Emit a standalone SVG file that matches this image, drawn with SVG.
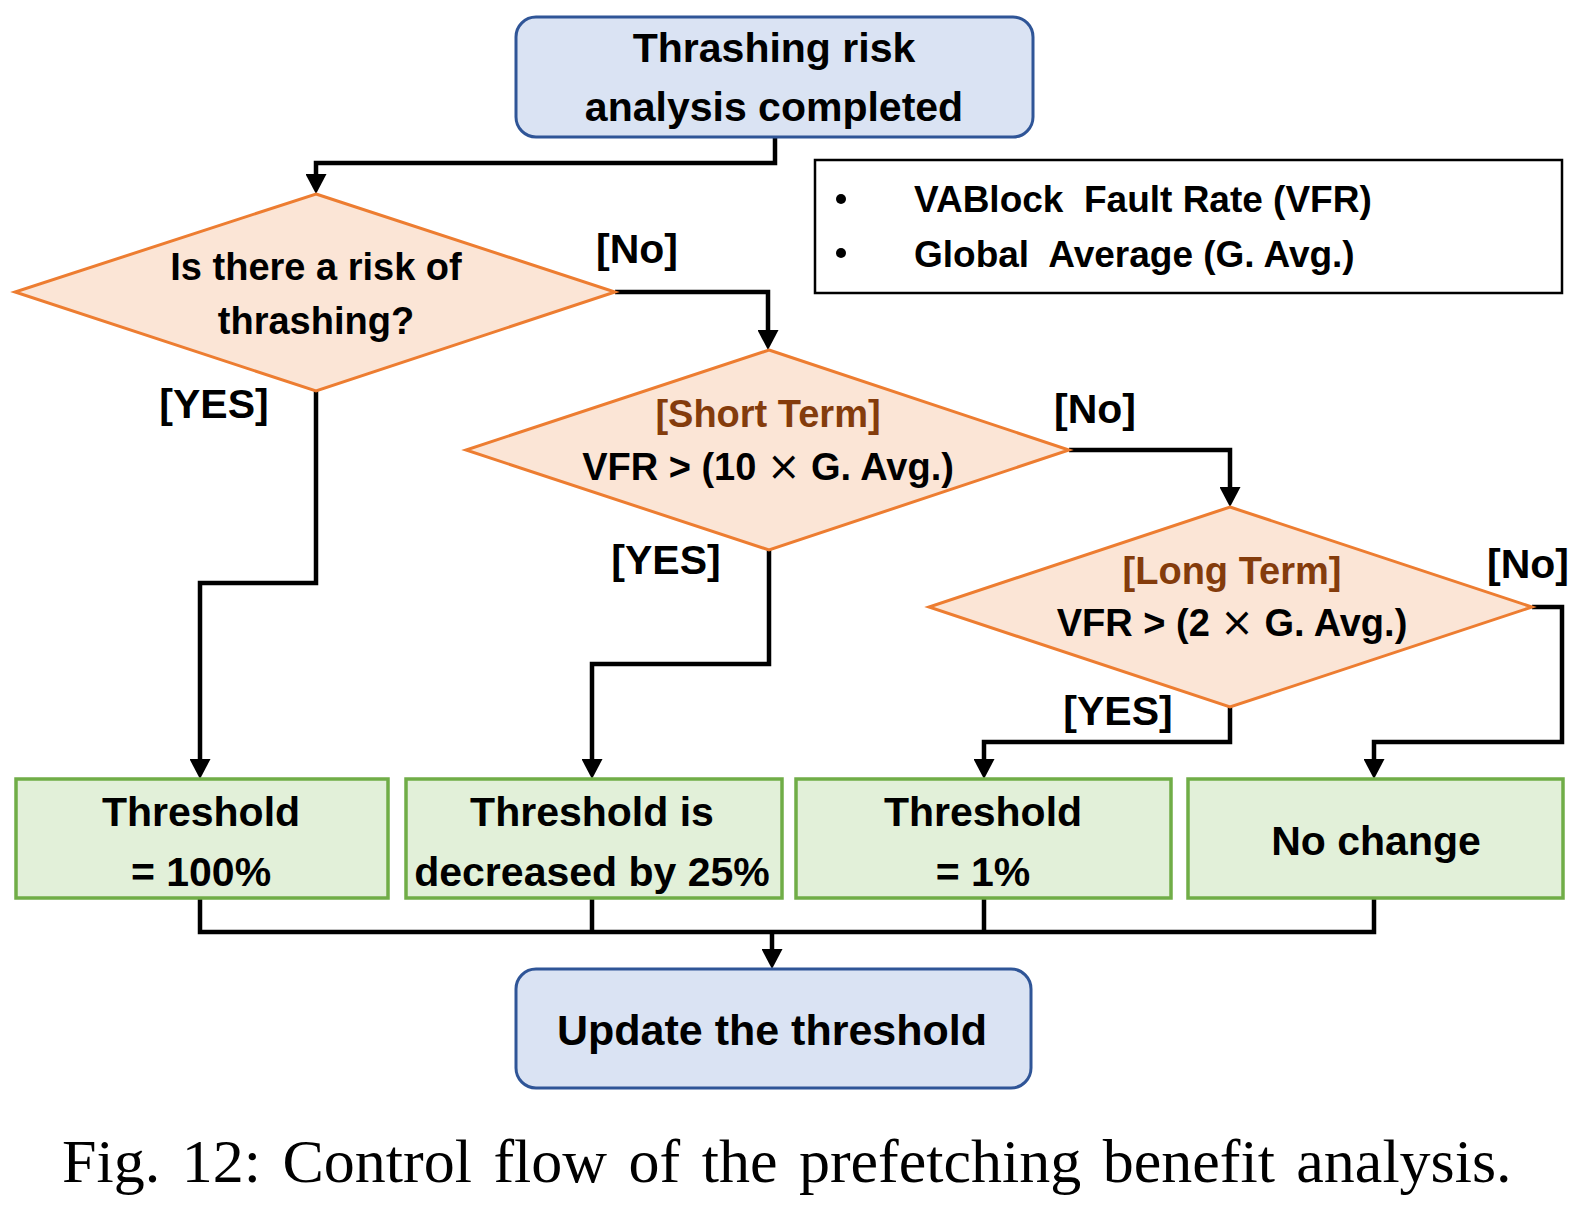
<svg xmlns="http://www.w3.org/2000/svg" width="1582" height="1208" viewBox="0 0 1582 1208">
<style>
  .t { font-family: "Liberation Sans", Arial, sans-serif; font-weight: bold; fill: #000; text-anchor: middle; }
  .n41 { font-size: 41px; }
  .d38 { font-size: 38px; }
  .lbl { font-size: 41px; }
  .brown { fill: #843C0C; }
  .x { font-family: "DejaVu Sans", sans-serif; font-weight: normal; font-size: 40px; }
  .start { fill: #DAE3F3; stroke: #2F5597; stroke-width: 3; }
  .dia { fill: #FBE5D6; stroke: #ED7D31; stroke-width: 3; }
  .box { fill: #E2F0D9; stroke: #70AD47; stroke-width: 3.5; }
  .conn { fill: none; stroke: #000; stroke-width: 4.5; stroke-linejoin: miter; }
  .cap { font-family: "Liberation Serif", "Times New Roman", serif; font-size: 62px; fill: #000; word-spacing: 6px; }
</style>
<defs>
  <marker id="arr" viewBox="0 0 20 21" markerWidth="20" markerHeight="21" refX="0" refY="10.5" orient="auto" markerUnits="userSpaceOnUse">
    <path d="M0,0 L20,10.5 L0,21 z" fill="#000"/>
  </marker>
</defs>
<rect width="1582" height="1208" fill="#fff"/>

<g id="connectors">
  <path class="conn" d="M775,137 V163 H316 V174" marker-end="url(#arr)"/>
  <path class="conn" d="M615,292 H768 V330" marker-end="url(#arr)"/>
  <path class="conn" d="M1069,450 H1230 V487" marker-end="url(#arr)"/>
  <path class="conn" d="M316,391 V583 H200 V759" marker-end="url(#arr)"/>
  <path class="conn" d="M769,550 V664 H592 V759" marker-end="url(#arr)"/>
  <path class="conn" d="M1230,706 V742 H984 V759" marker-end="url(#arr)"/>
  <path class="conn" d="M1532,607 H1562 V742 H1374 V759" marker-end="url(#arr)"/>
  <path class="conn" d="M200,898 V932 H1374 V898 M592,898 V932 M984,898 V932"/>
  <path class="conn" d="M772,932 V949" marker-end="url(#arr)"/>
</g>

<g id="start">
  <rect class="start" x="516" y="17" width="517" height="120" rx="20"/>
  <text class="t n41" x="774" y="62">Thrashing risk</text>
  <text class="t n41" x="774" y="121">analysis completed</text>
</g>

<g id="legend">
  <rect x="815" y="160" width="747" height="133" fill="#fff" stroke="#000" stroke-width="2.5"/>
  <circle cx="841" cy="199" r="5" fill="#000"/>
  <circle cx="841" cy="253" r="5" fill="#000"/>
  <text class="t" xml:space="preserve" style="font-size:37px;text-anchor:start" x="914" y="212">VABlock  Fault Rate (VFR)</text>
  <text class="t" xml:space="preserve" style="font-size:37px;text-anchor:start" x="914" y="267">Global  Average (G. Avg.)</text>
</g>

<g id="q1">
  <polygon class="dia" points="316,194 615,292 316,391 15,292"/>
  <text class="t d38" x="316" y="280">Is there a risk of</text>
  <text class="t d38" x="316" y="334">thrashing?</text>
</g>

<g id="q2">
  <polygon class="dia" points="769,350 1069,450 769,550 466,450"/>
  <text class="t d38 brown" x="768" y="427">[Short Term]</text>
  <text class="t d38" x="768" y="480">VFR &gt; (10 <tspan class="x">×</tspan> G. Avg.)</text>
</g>

<g id="q3">
  <polygon class="dia" points="1230,507 1532,607 1230,707 929,607"/>
  <text class="t d38 brown" x="1232" y="584">[Long Term]</text>
  <text class="t d38" x="1232" y="636">VFR &gt; (2 <tspan class="x">×</tspan> G. Avg.)</text>
</g>

<g id="labels">
  <text class="t lbl" x="637" y="263">[No]</text>
  <text class="t lbl" x="214" y="418">[YES]</text>
  <text class="t lbl" x="1095" y="423">[No]</text>
  <text class="t lbl" x="666" y="574">[YES]</text>
  <text class="t lbl" x="1528" y="578">[No]</text>
  <text class="t lbl" x="1118" y="725">[YES]</text>
</g>

<g id="b1">
  <rect class="box" x="16" y="779" width="372" height="119"/>
  <text class="t n41" x="201" y="826">Threshold</text>
  <text class="t n41" x="201" y="886">= 100%</text>
</g>
<g id="b2">
  <rect class="box" x="406" y="779" width="376" height="119"/>
  <text class="t n41" x="592" y="826">Threshold is</text>
  <text class="t n41" x="592" y="886">decreased by 25%</text>
</g>
<g id="b3">
  <rect class="box" x="796" y="779" width="375" height="119"/>
  <text class="t n41" x="983" y="826">Threshold</text>
  <text class="t n41" x="983" y="886">= 1%</text>
</g>
<g id="b4">
  <rect class="box" x="1188" y="779" width="375" height="119"/>
  <text class="t n41" x="1376" y="855">No change</text>
</g>

<g id="end">
  <rect class="start" x="516" y="969" width="515" height="119" rx="20"/>
  <text class="t" style="font-size:43px" x="772" y="1045">Update the threshold</text>
</g>

<text class="cap" x="62" y="1182">Fig. 12: Control flow of the prefetching benefit analysis.</text>
</svg>
